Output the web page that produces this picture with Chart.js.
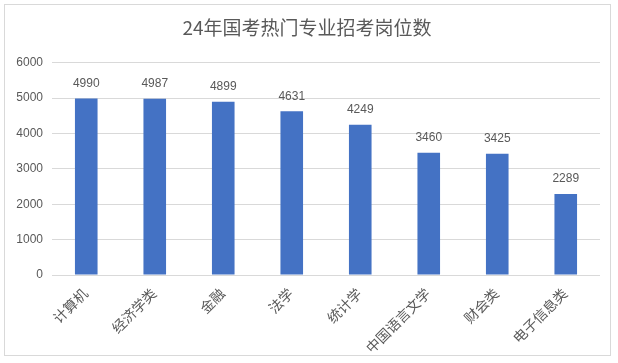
<!DOCTYPE html>
<html>
<head>
<meta charset="utf-8">
<script src="https://cdn.jsdelivr.net/npm/chart.js@4.4.0/dist/chart.umd.min.js"></script>
<style>
  body { margin: 0; background: #fff; }
  #wrap { position: relative; width: 618px; height: 363px; }
  #frame { position: absolute; left: 4px; top: 4px; width: 607px; height: 352px; border: 1px solid #d9d9d9; box-sizing: border-box; }
  canvas { position: absolute; left: 0; top: 0; }
</style>
</head>
<body>
<div id="wrap">
  <div id="frame"></div>
  <canvas id="myChart" width="618" height="363"></canvas>
</div>
<script>
const categories = ["计算机", "经济学类", "金融", "法学", "统计学", "中国语言文学", "财会类", "电子信息类"];
const positions = [4990, 4987, 4899, 4631, 4249, 3460, 3425, 2289];
const yTicks = [0, 1000, 2000, 3000, 4000, 5000, 6000];

const fontFamily = '"Liberation Sans", "Noto Sans CJK SC", sans-serif';
const textColor = "#595959";

// draws the number above each bar
const valueLabels = {
    id: "valueLabels",
    afterDatasetsDraw(chart) {
        const ctx = chart.ctx;
        const meta = chart.getDatasetMeta(0);
        ctx.save();
        ctx.font = "12px " + fontFamily;
        ctx.fillStyle = textColor;
        ctx.textAlign = "center";
        ctx.textBaseline = "bottom";
        meta.data.forEach((bar, i) => {
            ctx.fillText(positions[i], bar.x, bar.y - 9);
        });
        ctx.restore();
    }
};

new Chart("myChart", {
    type: "bar",
    data: {
        labels: categories,
        datasets: [{
            data: positions,
            backgroundColor: "#4472C4",
            barPercentage: 0.33,
            categoryPercentage: 1.0
        }]
    },
    options: {
        responsive: false,
        animation: false,
        layout: { padding: { left: 14, right: 18, top: 0, bottom: 0 } },
        plugins: {
            legend: { display: false },
            tooltip: { enabled: false },
            title: {
                display: true,
                text: "24年国考热门专业招考岗位数",
                color: textColor,
                font: { family: '"Noto Sans CJK SC", sans-serif', size: 19, weight: "normal" },
                padding: { top: 16, bottom: 24 }
            }
        },
        scales: {
            x: {
                grid: { display: false },
                border: { display: false },
                ticks: {
                    color: textColor,
                    font: { family: fontFamily, size: 14 },
                    minRotation: 45,
                    maxRotation: 45,
                    padding: 3
                },
                afterFit(scale) { scale.height = 88; }
            },
            y: {
                min: 0,
                max: 6000,
                afterBuildTicks(scale) { scale.ticks = yTicks.map(v => ({ value: v })); },
                grid: { color: "#d9d9d9", drawTicks: false },
                border: { display: false },
                ticks: {
                    color: textColor,
                    font: { family: fontFamily, size: 12 },
                    padding: 9,
                    callback: v => String(v)
                },
                afterFit(scale) { scale.width = 38; }
            }
        }
    },
    plugins: [valueLabels]
});
</script>
</body>
</html>
